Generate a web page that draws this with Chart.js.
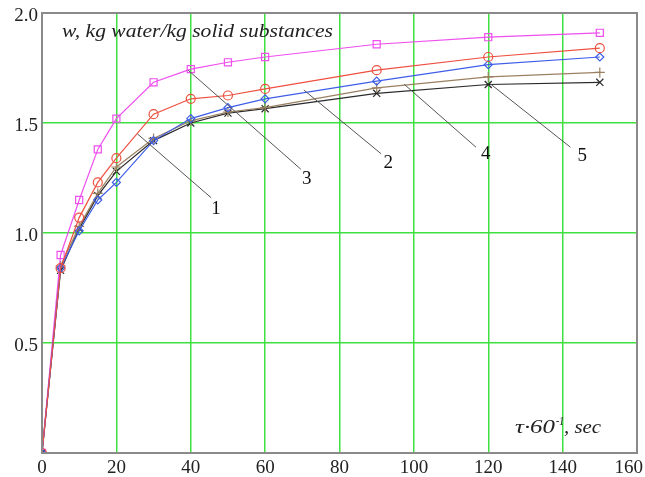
<!DOCTYPE html>
<html>
<head>
<meta charset="utf-8">
<script src="https://cdn.jsdelivr.net/npm/chart.js"></script>
<style>
  html, body { margin: 0; padding: 0; background: #fff; }
  #box { width: 645px; height: 477px; }
</style>
</head>
<body>
<div id="box"><canvas id="dryingChart"></canvas></div>
<script>
// time points (tau / 60)
const timeValues = [0, 5, 10, 15, 20, 30, 40, 50, 60, 90, 120, 150];

// moisture content w, kg water / kg solid
const curve1 = [0, 0.84, 1.07, 1.23, 1.34, 1.54, 1.61, 1.625, 1.655, 1.74, 1.80, 1.84];
const curve2 = [0, 0.84, 1.01, 1.15, 1.23, 1.42, 1.52, 1.57, 1.61, 1.69, 1.765, 1.80];
const curve3 = [0, 0.90, 1.15, 1.38, 1.52, 1.685, 1.745, 1.776, 1.80, 1.858, 1.89, 1.91];
const curve4 = [0, 0.85, 1.03, 1.18, 1.30, 1.43, 1.51, 1.55, 1.57, 1.66, 1.71, 1.73];
const curve5 = [0, 0.83, 1.02, 1.17, 1.28, 1.42, 1.50, 1.545, 1.565, 1.635, 1.675, 1.685];

const xTicks = [0, 20, 40, 60, 80, 100, 120, 140, 160];
const yTicks = [0, 0.5, 1.0, 1.5, 2.0];

// callout numbers: point on curve -> end of leader -> label position (data units)
const calloutNames = ['1', '2', '3', '4', '5'];
const calloutFrom = [[25.7, 1.45], [70.4, 1.65], [39.3, 1.74], [97.4, 1.676], [120.4, 1.68]];
const calloutTo = [[45.5, 1.16], [91.2, 1.36], [69.6, 1.29], [116.7, 1.39], [142.1, 1.39]];
const calloutAt = [[46.8, 1.11], [93.1, 1.32], [71.2, 1.247], [119.3, 1.36], [145.3, 1.35]];

const serif = '"Liberation Serif", "Times New Roman", serif';

function pts(vals) {
  return vals.map((v, i) => ({ x: timeValues[i], y: v }));
}

function series(label, vals, color, style, radius) {
  return {
    label: label,
    data: pts(vals),
    borderColor: color,
    backgroundColor: 'rgba(0,0,0,0)',
    borderWidth: 1.2,
    pointStyle: style,
    pointRadius: radius,
    pointBorderColor: color,
    pointBorderWidth: 1.2,
    pointBackgroundColor: 'rgba(0,0,0,0)',
    tension: 0,
    fill: false
  };
}

// draw text squeezed/stretched to a given width
function wideText(ctx, txt, x, y, width) {
  const w = ctx.measureText(txt).width;
  ctx.save();
  ctx.translate(x, y);
  ctx.scale(width / w, 1);
  ctx.fillText(txt, 0, 0);
  ctx.restore();
  return width;
}

// leader lines, callout numbers, x tick labels and axis captions
const notesPlugin = {
  id: 'notes',
  afterDatasetsDraw(chart) {
    const ctx = chart.ctx;
    const xs = chart.scales.x, ys = chart.scales.y;
    ctx.save();
    ctx.strokeStyle = '#555';
    ctx.lineWidth = 1;
    ctx.fillStyle = '#111';
    ctx.font = '19px ' + serif;
    ctx.textAlign = 'center';
    ctx.textBaseline = 'middle';
    calloutNames.forEach((name, i) => {
      ctx.beginPath();
      ctx.moveTo(xs.getPixelForValue(calloutFrom[i][0]), ys.getPixelForValue(calloutFrom[i][1]));
      ctx.lineTo(xs.getPixelForValue(calloutTo[i][0]), ys.getPixelForValue(calloutTo[i][1]));
      ctx.stroke();
      ctx.fillText(name, xs.getPixelForValue(calloutAt[i][0]), ys.getPixelForValue(calloutAt[i][1]));
    });

    // x tick labels, kept inside the canvas at the right edge
    ctx.fillStyle = '#222';
    xTicks.forEach((v) => {
      const s = String(v);
      const w = ctx.measureText(s).width;
      let px = xs.getPixelForValue(v);
      px = Math.min(px, chart.width - 2 - w / 2);
      ctx.fillText(s, px, 468);
    });

    // y caption
    ctx.textAlign = 'left';
    ctx.textBaseline = 'alphabetic';
    ctx.font = 'italic 18px ' + serif;
    wideText(ctx, 'w, kg water/kg solid substances', 62, 37, 271);

    // x caption with superscript
    let x = 515;
    const base = 433;
    ctx.font = 'italic 18px ' + serif;
    x += wideText(ctx, 'τ·60', x, base, 40);
    ctx.font = 'italic 12px ' + serif;
    x += wideText(ctx, '-1', x + 1, base - 8, 8) + 1;
    ctx.font = 'italic 18px ' + serif;
    wideText(ctx, ', sec', x, base, 37);
    ctx.restore();
  }
};

// grey frame around the plot
const framePlugin = {
  id: 'frame',
  afterDraw(chart) {
    const a = chart.chartArea, ctx = chart.ctx;
    ctx.save();
    ctx.strokeStyle = '#8a8a8a';
    ctx.lineWidth = 2;
    ctx.strokeRect(a.left, a.top, a.right - a.left, a.bottom - a.top);
    ctx.restore();
  }
};

new Chart(document.getElementById('dryingChart'), {
  type: 'line',
  data: {
    datasets: [
      series('1', curve1, '#ee5040', 'circle', 4.5),
      series('2', curve2, '#3f5ee8', 'rectRot', 4),
      series('3', curve3, '#ee4fee', 'rect', 5),
      series('4', curve4, '#9a8060', 'cross', 5),
      series('5', curve5, '#2a2a2a', 'crossRot', 5)
    ]
  },
  options: {
    responsive: true,
    maintainAspectRatio: false,
    animation: false,
    layout: { padding: { top: 13, right: 8, left: 0, bottom: 0 } },
    plugins: {
      legend: { display: false },
      tooltip: { enabled: false }
    },
    scales: {
      x: {
        type: 'linear',
        min: 0,
        max: 160,
        afterBuildTicks: (s) => { s.ticks = xTicks.map(v => ({ value: v })); },
        ticks: { display: false },
        grid: { color: '#3fe03f', lineWidth: 1.5, drawTicks: false },
        border: { display: false },
        afterFit: (s) => { s.height = 24; s.paddingRight = 0; s.paddingLeft = 0; }
      },
      y: {
        type: 'linear',
        min: 0,
        max: 2.0,
        afterBuildTicks: (s) => { s.ticks = yTicks.map(v => ({ value: v })); },
        ticks: {
          color: '#222',
          font: { family: serif, size: 19 },
          padding: 4,
          labelOffset: 3,
          callback: (v) => v === 0 ? '' : v.toFixed(1)
        },
        grid: { color: '#3fe03f', lineWidth: 1.5, drawTicks: false },
        border: { display: false },
        afterFit: (s) => { s.width = 42; s.paddingTop = 0; s.paddingBottom = 0; }
      }
    }
  },
  plugins: [notesPlugin, framePlugin]
});
</script>
</body>
</html>
